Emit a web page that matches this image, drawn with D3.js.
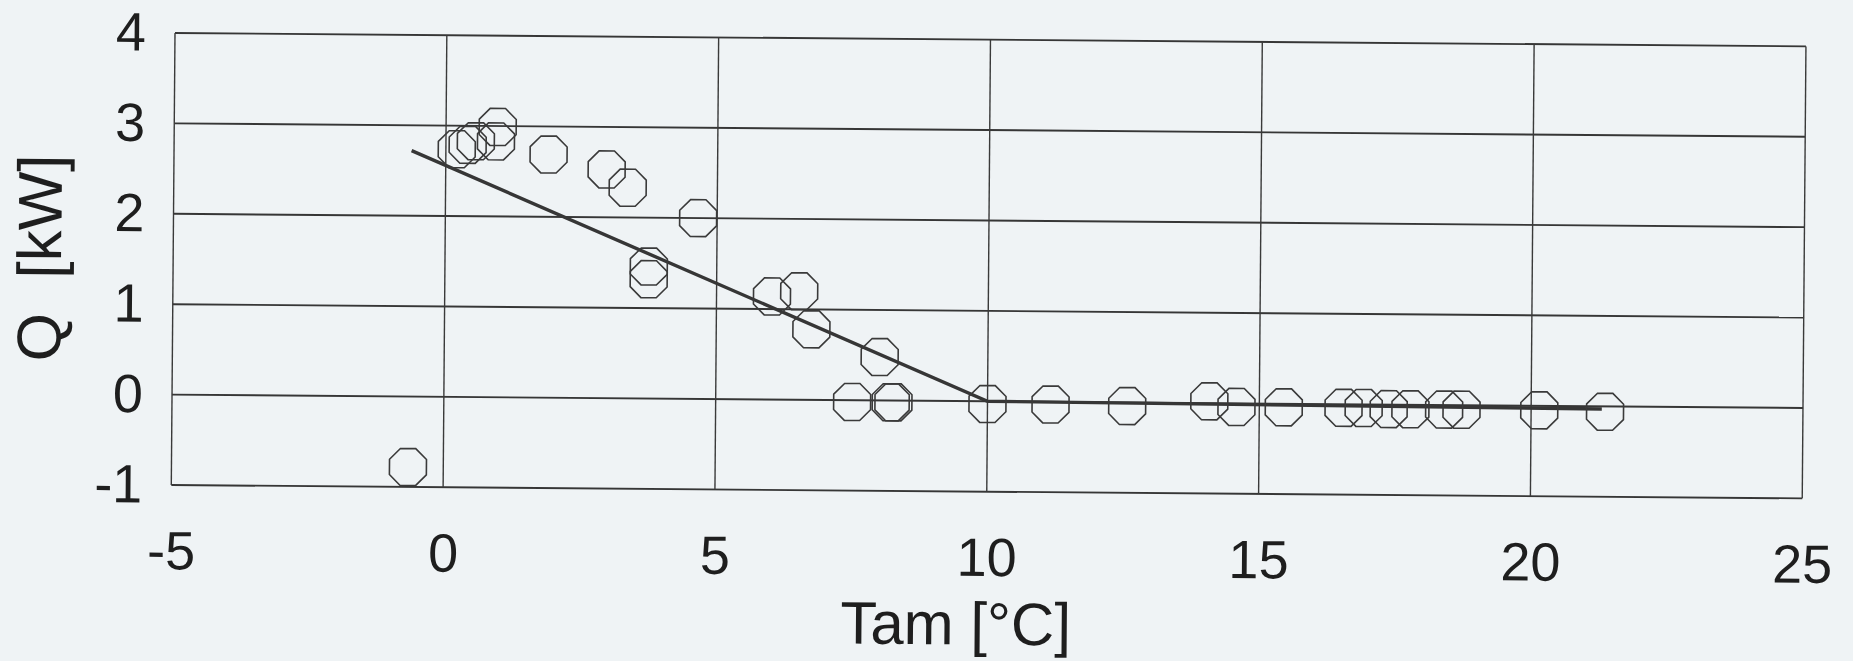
<!DOCTYPE html>
<html>
<head>
<meta charset="utf-8">
<script src="https://cdn.jsdelivr.net/npm/d3@7/dist/d3.min.js"></script>
<style>
  body { margin: 0; background: #eff3f5; overflow: hidden; }
  text { font-family: "Liberation Sans", Arial, sans-serif; fill: #1e1e1e; }
</style>
</head>
<body>
<div id="chart"></div>
<script>
// Measured points: ambient temperature vs heat output
const tam = [-0.65, 0.20, 0.40, 0.55, 0.92, 0.95, 1.89, 2.96, 3.35, 3.75, 3.75, 4.65,
             6.02, 6.52, 6.75, 8.01, 7.51, 8.22, 8.27, 10.0, 11.16, 12.57, 14.08, 14.58,
             15.45, 16.55, 16.92, 17.38, 17.78, 18.40, 18.72, 20.15, 21.36];
const q = [-0.78, 2.74, 2.79, 2.83, 2.83, 2.99, 2.69, 2.53, 2.33, 1.46, 1.32, 2.00,
           1.14, 1.20, 0.78, 0.48, -0.02, -0.02, -0.02, -0.03, -0.03, -0.04, 0.02, -0.04,
           -0.04, -0.04, -0.04, -0.05, -0.05, -0.05, -0.05, -0.05, -0.06];

// Fitted (segmented) line
const fitTam = [-0.63, 10.0, 21.3];
const fitQ = [2.72, 0.0, -0.03];

const xTicks = [-5, 0, 5, 10, 15, 20, 25];
const yTicks = [-1, 0, 1, 2, 3, 4];

const width = 1853, height = 661;
const origin = { x: 175, y: 33 };
const W = 1631, H = 452;
const tilt = 0.47; // scanned page is slightly rotated

const svg = d3.select('#chart')
  .append('svg')
  .attr('width', width)
  .attr('height', height);

svg.append('rect')
  .attr('width', width)
  .attr('height', height)
  .attr('fill', '#eff3f5');

const g = svg.append('g')
  .attr('transform', `translate(${origin.x},${origin.y}) rotate(${tilt})`);

const x = d3.scaleLinear().domain([-5, 25]).range([0, W]);
const y = d3.scaleLinear().domain([-1, 4]).range([H, 0]);

// Grid
g.append('g')
  .selectAll('line')
  .data(yTicks)
  .join('line')
  .attr('x1', 0).attr('x2', W)
  .attr('y1', d => y(d)).attr('y2', d => y(d))
  .attr('stroke', '#363636')
  .attr('stroke-width', 1.9);

g.append('g')
  .selectAll('line')
  .data(xTicks)
  .join('line')
  .attr('x1', d => x(d)).attr('x2', d => x(d))
  .attr('y1', 0).attr('y2', H)
  .attr('stroke', '#3a3a3a')
  .attr('stroke-width', 1.4);

// Axes labels (no tick marks), plain hyphen minus like the original
const fmt = d => String(d);

const xAxis = d3.axisBottom(x).tickValues(xTicks).tickSize(0).tickPadding(46).tickFormat(fmt);
g.append('g')
  .attr('transform', `translate(0,${H})`)
  .call(xAxis)
  .call(s => s.select('.domain').remove())
  .selectAll('text')
  .attr('font-size', 54)
  .attr('fill', '#1e1e1e');

const yAxis = d3.axisLeft(y).tickValues(yTicks).tickSize(0).tickPadding(29).tickFormat(fmt);
g.append('g')
  .call(yAxis)
  .call(s => s.select('.domain').remove())
  .selectAll('text')
  .attr('font-size', 54)
  .attr('fill', '#1e1e1e');

// Fit line
const line = d3.line().x((d, i) => x(fitTam[i])).y(d => y(d));
g.append('path')
  .datum(fitQ)
  .attr('d', line)
  .attr('fill', 'none')
  .attr('stroke', '#363636')
  .attr('stroke-width', 3.4);

// Octagon markers
const R = 20;
const octagon = d3.range(8).map(i => {
  const a = Math.PI / 8 + i * Math.PI / 4;
  return [R * Math.cos(a), R * Math.sin(a)];
});
g.append('g')
  .selectAll('path')
  .data(tam)
  .join('path')
  .attr('transform', (d, i) => `translate(${x(d)},${y(q[i])})`)
  .attr('d', 'M' + octagon.join('L') + 'Z')
  .attr('fill', 'none')
  .attr('stroke', '#3a3a3a')
  .attr('stroke-width', 1.6);

// Axis titles
g.append('text')
  .attr('x', W / 2 - 30)
  .attr('y', H + 153)
  .attr('text-anchor', 'middle')
  .attr('font-size', 60)
  .text('Tam [°C]');

g.append('text')
  .attr('transform', `translate(-112,${H / 2}) rotate(-90)`)
  .attr('text-anchor', 'middle')
  .attr('font-size', 62)
  .style('white-space', 'pre')
  .text('Q  [kW]');
</script>
</body>
</html>
